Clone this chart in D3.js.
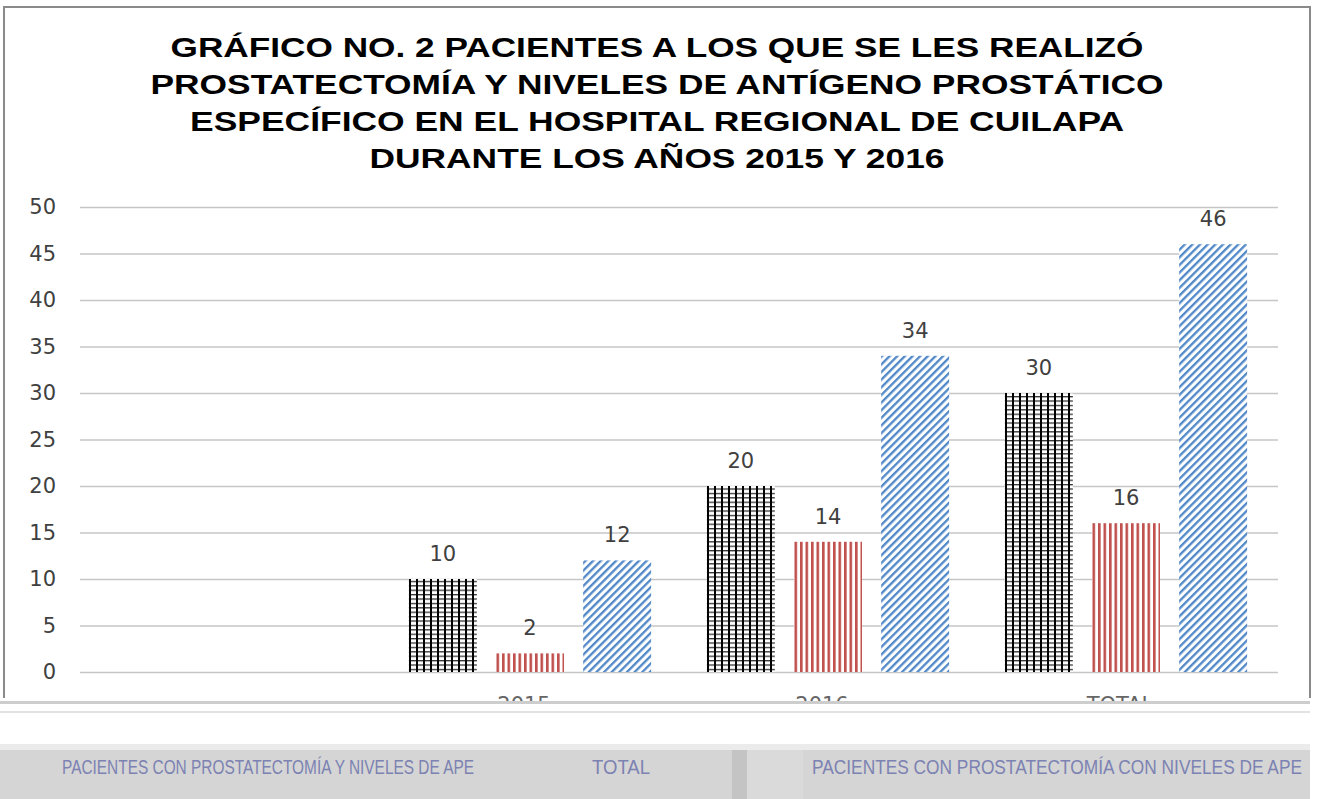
<!DOCTYPE html>
<html>
<head>
<meta charset="utf-8">
<script src="https://cdn.jsdelivr.net/npm/d3@7"></script>
<style>
  body { margin: 0; background: #fff; }
  svg { display: block; }
</style>
</head>
<body>
<div id="canvas"><svg width="1318" height="799"></svg></div>
<script>
// chart data
var categories = ["", "2015", "2016", "TOTAL"];
var seriesNames = ["PACIENTES CON PROSTATECTOMÍA", "PACIENTES CON NIVELES DE APE ELEVADOS", "TOTAL"];
var seriesA = [null, 10, 20, 30];   // black grid
var seriesB = [null, 2, 14, 16];    // red vertical stripes
var seriesC = [null, 12, 34, 46];   // blue diagonal stripes
var yTicks = [0, 5, 10, 15, 20, 25, 30, 35, 40, 45, 50];
var titleLines = [
  "GRÁFICO NO. 2 PACIENTES A LOS QUE SE LES REALIZÓ",
  "PROSTATECTOMÍA Y NIVELES DE ANTÍGENO PROSTÁTICO",
  "ESPECÍFICO EN EL HOSPITAL REGIONAL DE CUILAPA",
  "DURANTE LOS AÑOS 2015 Y 2016"
];
var titleWidths = [973, 1013, 934, 575];
var legendItems = ["PACIENTES CON PROSTATECTOMÍA Y NIVELES DE APE", "TOTAL", "PACIENTES CON PROSTATECTOMÍA CON NIVELES DE APE"];

var svg = d3.select("#canvas svg"),
    width = 1318,
    height = 799,
    plotLeft = 80,
    plotRight = 1278,
    plotTop = 207,
    plotBottom = 672;

// small stand-in for selection.attrs
function setAttrs(sel, obj) {
  Object.keys(obj).forEach(function (k) { sel.attr(k, obj[k]); });
  return sel;
}

var keys = ["a", "b", "c"];
var fills = {a: "url(#pGrid)", b: "url(#pRed)", c: "url(#pBlue)"};

var table = categories.map(function (c, i) {
  return {cat: c, a: seriesA[i], b: seriesB[i], c: seriesC[i]};
});

// patterns
var defs = svg.append("defs");

var pg = setAttrs(defs.append("pattern"), {id: "pGrid", patternUnits: "userSpaceOnUse", width: 7, height: 4.4});
setAttrs(pg.append("rect"), {width: 7, height: 4.4, fill: "#fff"});
setAttrs(pg.append("rect"), {x: 0, y: 0, width: 7, height: 1.3, fill: "#333"});
setAttrs(pg.append("rect"), {x: 0, y: 0, width: 2, height: 4.4, fill: "#000"});

var pr = setAttrs(defs.append("pattern"), {id: "pRed", patternUnits: "userSpaceOnUse", width: 5.5, height: 10});
setAttrs(pr.append("rect"), {width: 5.5, height: 10, fill: "#fff"});
setAttrs(pr.append("rect"), {x: 0, y: 0, width: 2.6, height: 10, fill: "#c0504d"});

var pb = setAttrs(defs.append("pattern"), {id: "pBlue", patternUnits: "userSpaceOnUse", width: 5.4, height: 10, patternTransform: "rotate(45)"});
setAttrs(pb.append("rect"), {width: 5.4, height: 10, fill: "#fff"});
setAttrs(pb.append("rect"), {x: 0, y: 0, width: 2.3, height: 10, fill: "#5088c8"});

setAttrs(defs.append("clipPath").attr("id", "cut").append("rect"), {x: 0, y: 0, width: width, height: 703});

// frame
svg.append("path")
  .attr("d", "M4,698 V7 H1310 V698")
  .attr("fill", "none")
  .attr("stroke", "#8a8a8a")
  .attr("stroke-width", 2);

// title
svg.append("g").selectAll("text")
  .data(titleLines)
  .enter().append("text")
  .attr("x", 657)
  .attr("y", function (d, i) { return 57 + i * 37; })
  .attr("text-anchor", "middle")
  .attr("textLength", function (d, i) { return titleWidths[i]; })
  .attr("lengthAdjust", "spacingAndGlyphs")
  .attr("font-family", "Liberation Sans, Arial, sans-serif")
  .attr("font-weight", "bold")
  .attr("font-size", 27)
  .attr("fill", "#000")
  .text(function (d) { return d; });

// scales
var x0 = d3.scaleBand().domain(categories).range([83, 1275]);
var x1 = d3.scaleBand().domain(keys).range([0, x0.bandwidth()]).paddingInner(0.22).paddingOuter(0.32);
var y = d3.scaleLinear().domain([0, 50]).range([plotBottom, plotTop]);

// gridlines
var grid = svg.append("g")
  .attr("transform", "translate(" + plotLeft + ",0)")
  .call(d3.axisLeft(y).tickValues(yTicks).tickSize(-(plotRight - plotLeft)).tickFormat(""));
grid.select(".domain").remove();
grid.selectAll("line").attr("stroke", "#c6c6c6").attr("stroke-width", 1.6);

// y labels
var yAxis = svg.append("g")
  .attr("transform", "translate(" + plotLeft + ",0)")
  .call(d3.axisLeft(y).tickValues(yTicks).tickSize(0).tickPadding(24));
yAxis.select(".domain").remove();
yAxis.selectAll("text")
  .attr("font-family", "DejaVu Sans, sans-serif")
  .attr("font-size", 21)
  .attr("fill", "#404040");

// bars
var groups = svg.append("g").selectAll("g")
  .data(table)
  .enter().append("g")
  .attr("transform", function (d) { return "translate(" + x0(d.cat) + ",0)"; });

var cells = groups.selectAll("g")
  .data(function (d) {
    return keys.filter(function (k) { return d[k] != null; })
      .map(function (k) { return {key: k, value: d[k]}; });
  })
  .enter().append("g");

cells.append("rect")
  .attr("x", function (d) { return x1(d.key); })
  .attr("y", function (d) { return y(d.value); })
  .attr("width", x1.bandwidth())
  .attr("height", function (d) { return y(0) - y(d.value); })
  .attr("fill", function (d) { return fills[d.key]; });

cells.append("text")
  .attr("x", function (d) { return x1(d.key) + x1.bandwidth() / 2; })
  .attr("y", function (d) { return y(d.value) - 18; })
  .attr("text-anchor", "middle")
  .attr("font-family", "DejaVu Sans, sans-serif")
  .attr("font-size", 21)
  .attr("fill", "#404040")
  .text(function (d) { return d.value; });

// category labels (only the tops survive in the picture)
svg.append("g").attr("clip-path", "url(#cut)").selectAll("text")
  .data(categories)
  .enter().append("text")
  .attr("x", function (d) { return x0(d) + x0.bandwidth() / 2 - 6; })
  .attr("y", 712)
  .attr("text-anchor", "middle")
  .attr("font-family", "DejaVu Sans, sans-serif")
  .attr("font-size", 21)
  .attr("fill", "#666")
  .text(function (d) { return d; });

// damaged strip below the chart
setAttrs(svg.append("rect"), {x: 0, y: 701, width: 1310, height: 3, fill: "#cdcdcd"});
setAttrs(svg.append("rect"), {x: 0, y: 711, width: 1310, height: 2, fill: "#e2e2e2"});
setAttrs(svg.append("rect"), {x: 0, y: 744, width: 1310, height: 6, fill: "#ebebeb"});
setAttrs(svg.append("rect"), {x: 0, y: 750, width: 1310, height: 49, fill: "#d5d5d5"});
setAttrs(svg.append("rect"), {x: 732, y: 750, width: 15, height: 49, fill: "#c4c4c4"});
setAttrs(svg.append("rect"), {x: 747, y: 750, width: 56, height: 49, fill: "#dadada"});

// legend
var legendX = [62, 592, 812];
var legendW = [412, 58, 490];
svg.append("g").selectAll("text")
  .data(legendItems)
  .enter().append("text")
  .attr("x", function (d, i) { return legendX[i]; })
  .attr("y", 774)
  .attr("textLength", function (d, i) { return legendW[i]; })
  .attr("lengthAdjust", "spacingAndGlyphs")
  .attr("font-family", "Liberation Sans, Arial, sans-serif")
  .attr("font-size", 20)
  .attr("fill", "#7c82b2")
  .text(function (d) { return d; });
</script>
</body>
</html>
